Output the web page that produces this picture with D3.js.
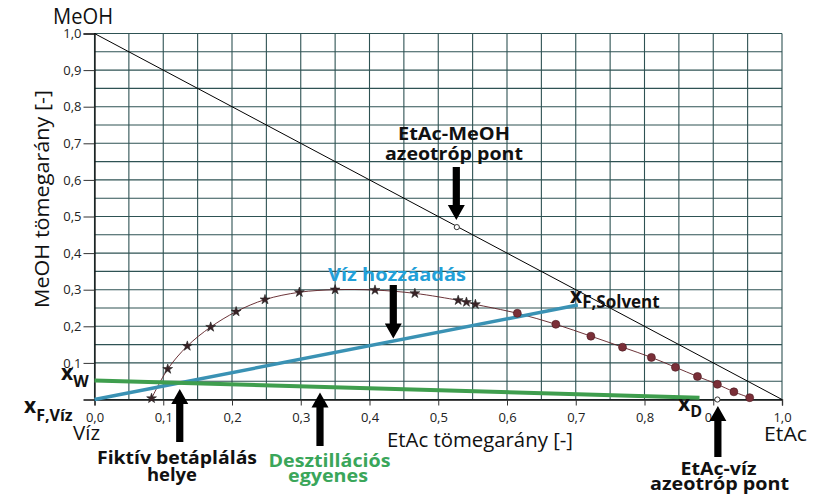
<!DOCTYPE html>
<html><head><meta charset="utf-8">
<script src="https://cdn.jsdelivr.net/npm/d3@7"></script>
<style>body{margin:0;background:#fff}svg{display:block}</style>
</head><body>
<svg id="c" width="814" height="502"></svg>
<script>
// ---- data ----
const xTicks = [0, 0.1, 0.2, 0.3, 0.4, 0.5, 0.6, 0.7, 0.8, 0.9, 1.0];
const xTickLabels = ["0,0","0,1","0,2","0,3","0,4","0,5","0,6","0,7","0,8","0,9","1,0"];
const yTicks = [0.1, 0.2, 0.3, 0.4, 0.5, 0.6, 0.7, 0.8, 0.9, 1.0];
const yTickLabels = ["0,1","0,2","0,3","0,4","0,5","0,6","0,7","0,8","0,9","1,0"];
const gridSteps = d3.range(0, 21).map(i => i * 0.05);
// binodal curve: water-rich branch (stars) and EtAc-rich branch (circles)
const leftBranchX = [0.083, 0.1065, 0.135, 0.169, 0.206, 0.248, 0.298, 0.350, 0.408, 0.466, 0.529, 0.541, 0.554];
const leftBranchY = [0.003, 0.083, 0.146, 0.198, 0.240, 0.273, 0.293, 0.300, 0.299, 0.290, 0.271, 0.266, 0.260];
const rightBranchX = [0.615, 0.671, 0.722, 0.768, 0.810, 0.845, 0.877, 0.906, 0.930, 0.953];
const rightBranchY = [0.2355, 0.2055, 0.173, 0.143, 0.115, 0.088, 0.063, 0.0415, 0.021, 0.005];
const diagonalX = [0, 1];
const diagonalY = [1, 0];
const waterAddX = [0, 0.703];
const waterAddY = [0, 0.258];
const distX = [0, 0.88];
const distY = [0.052, 0.005];
const azeoMeOH = [0.527, 0.471];
const azeoWater = [0.906, 0.0];

// ---- layout ----
const svg = d3.select("#c");
const m = {l: 94.5, r: 32, t: 33.5, b: 102.5};
const W = 814, H = 502;
const x = d3.scaleLinear().domain([0, 1]).range([m.l, W - m.r]);
const y = d3.scaleLinear().domain([0, 1]).range([H - m.b, m.t]);
const font = "'Open Sans', 'DejaVu Sans', sans-serif";
const gridCol = "#2e5253";

// grid
svg.append("g").selectAll("line.v").data(gridSteps).join("line")
  .attr("x1", d => x(d)).attr("x2", d => x(d)).attr("y1", y(0)).attr("y2", y(1))
  .attr("stroke", gridCol).attr("stroke-width", 1.1);
svg.append("g").selectAll("line.h").data(gridSteps).join("line")
  .attr("y1", d => y(d)).attr("y2", d => y(d)).attr("x1", x(0)).attr("x2", x(1))
  .attr("stroke", gridCol).attr("stroke-width", 1.1);

// axes
const xAxis = d3.axisBottom(x).tickValues(xTicks).tickFormat((d, i) => xTickLabels[i]).tickSize(6).tickPadding(7);
const gx = svg.append("g").attr("transform", `translate(0,${y(0)})`).call(xAxis);
const yAxis = d3.axisLeft(y).tickValues(yTicks).tickFormat((d, i) => yTickLabels[i]).tickSize(11).tickPadding(2);
const gy = svg.append("g").attr("transform", `translate(${x(0)},0)`).call(yAxis);
[gx, gy].forEach(g => {
  g.select(".domain").attr("stroke", "#111").attr("stroke-width", 1.3);
  g.selectAll(".tick line").attr("stroke", "#333");
  g.selectAll(".tick text").attr("font-family", font).attr("font-size", 13).attr("fill", "#222");
});

// diagonal
const line = d3.line().x(d => x(d[0])).y(d => y(d[1]));
svg.append("path").datum(diagonalX.map((v, i) => [v, diagonalY[i]]))
  .attr("d", line).attr("fill", "none").attr("stroke", "#000").attr("stroke-width", 1);

// binodal curve
const leftPts = leftBranchX.map((v, i) => [v, leftBranchY[i]]);
const rightPts = rightBranchX.map((v, i) => [v, rightBranchY[i]]);
svg.append("path").datum(leftPts.concat(rightPts))
  .attr("d", d3.line().x(d => x(d[0])).y(d => y(d[1])).curve(d3.curveCatmullRom))
  .attr("fill", "none").attr("stroke", "#5b1d22").attr("stroke-width", 0.9);

// blue water addition line
svg.append("path").datum(waterAddX.map((v, i) => [v, waterAddY[i]]))
  .attr("d", line).attr("fill", "none").attr("stroke", "#3a92b4").attr("stroke-width", 3.5);
// green distillation line
svg.append("path").datum(distX.map((v, i) => [v, distY[i]]))
  .attr("d", line).attr("fill", "none").attr("stroke", "#3f9e4e").attr("stroke-width", 4);

// markers
svg.append("g").selectAll("path").data(leftPts).join("path")
  .attr("transform", d => `translate(${x(d[0])},${y(d[1])})`)
  .attr("d", d3.symbol(d3.symbolStar, 30))
  .attr("fill", "#3a2226").attr("stroke", "#222").attr("stroke-width", 0.6);
svg.append("g").selectAll("circle").data(rightPts).join("circle")
  .attr("cx", d => x(d[0])).attr("cy", d => y(d[1])).attr("r", 4)
  .attr("fill", "#7a2f38").attr("stroke", "#4a1a20").attr("stroke-width", 0.6);

// azeotrope points
svg.append("g").selectAll("circle").data([azeoMeOH, azeoWater]).join("circle")
  .attr("cx", d => x(d[0])).attr("cy", d => y(d[1])).attr("r", 2.6)
  .attr("fill", "#fff").attr("stroke", "#333").attr("stroke-width", 1);

// the x_D annotation box partly hides the "0,9" tick label in the original
svg.append("rect").attr("x", x(0.9) - 1.5).attr("y", y(0) + 8).attr("width", 13).attr("height", 17).attr("fill", "#fff");

// arrows (pixel geometry anchored to data positions)
function arrow(px, yStart, yTip) {
  const dir = yTip > yStart ? 1 : -1;
  const hl = 15, sw = 3.6, hw = 8.5;
  const yb = yTip - dir * hl;
  const p = [[px - sw, yStart], [px + sw, yStart], [px + sw, yb], [px + hw, yb], [px, yTip], [px - hw, yb], [px - sw, yb]];
  svg.append("path").attr("d", "M" + p.map(q => q.join(",")).join("L") + "Z").attr("fill", "#000");
}
arrow(x(azeoMeOH[0]) - 0.5, 167, y(azeoMeOH[1]) - 7);
arrow(x(0.4346), 285, 338.5);
arrow(x(0.124), 442, 389);
arrow(x(0.328), 446, 392.5);
arrow(x(azeoWater[0]) + 0.5, 457, y(0) + 6.5);

// text helpers
function txt(tx, ty, s, opt = {}) {
  const t = svg.append("text").attr("x", tx).attr("y", ty).text(s)
    .attr("font-family", font).attr("font-size", opt.size || 20)
    .attr("font-weight", opt.bold ? 700 : 400)
    .attr("fill", opt.fill || "#111")
    .attr("text-anchor", opt.anchor || "start");
  if (opt.len) t.attr("textLength", opt.len).attr("lengthAdjust", "spacingAndGlyphs");
  return t;
}
txt(53, 24, "MeOH", {size: 22, len: 60});
txt(73, 440, "Víz", {size: 20, len: 27});
txt(387, 446.5, "EtAc tömegarány [-]", {size: 20, len: 186});
txt(764, 440.5, "EtAc", {size: 20, len: 43});
svg.append("text").attr("transform", "translate(49,199) rotate(-90)")
  .attr("text-anchor", "middle").attr("font-family", font).attr("font-size", 20).attr("fill", "#111")
  .attr("textLength", 218).attr("lengthAdjust", "spacingAndGlyphs")
  .text("MeOH tömegarány [-]");

const B = (len, fill) => ({size: 17, bold: true, anchor: "middle", len: len, fill: fill});
const green = "#3aa65a";
txt(454, 140, "EtAc-MeOH", B(112));
txt(454, 160, "azeotróp pont", B(138));
txt(718.5, 475, "EtAc-víz", B(76));
txt(719.5, 490, "azeotróp pont", B(139));
txt(177, 464, "Fiktív betáplálás", B(160));
txt(172, 481, "helye", B(50));
txt(329.5, 467, "Desztillációs", B(122, green));
txt(328, 482, "egyenes", B(80, green));
txt(328, 281, "Víz hozzáadás", {size: 17, bold: true, fill: "#23a0d8", len: 138});

// subscripted labels
function sub(tx, ty, main, subs, subDy, subSize) {
  const t = svg.append("text").attr("x", tx).attr("y", ty)
    .attr("font-family", font).attr("font-weight", 700).attr("fill", "#111");
  t.append("tspan").attr("font-size", 21).text(main);
  t.append("tspan").attr("font-size", subSize).attr("dy", subDy).text(subs);
}
sub(570, 303, "x", "F,Solvent", 5, 17);
sub(61, 380, "x", "W", 7, 16);
sub(24, 413, "x", "F,Víz", 8, 16);
sub(678, 410.5, "x", "D", 6.5, 16);
</script>
</body></html>
